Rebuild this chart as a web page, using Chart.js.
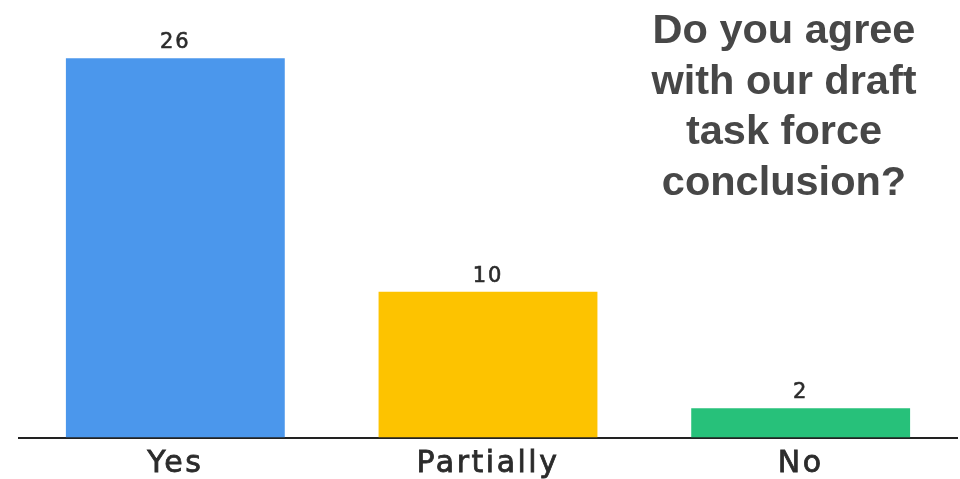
<!DOCTYPE html>
<html>
<head>
<meta charset="utf-8">
<script src="https://cdn.jsdelivr.net/npm/chart.js@4"></script>
<style>
  html, body { margin: 0; padding: 0; background: #ffffff; }
  #wrap { width: 960px; height: 479px; position: relative; }
</style>
</head>
<body>
<div id="wrap"><canvas id="chart"></canvas></div>
<script>
// Poll answers
const categories = ['Yes', 'Partially', 'No'];
const responses = [26, 10, 2];
const barColors = ['#4b97ec', '#fdc300', '#27c17a'];
const questionLines = ['Do you agree', 'with our draft', 'task force', 'conclusion?'];

// Wider tracking for the category labels, reset before the bars are drawn
const axisTracking = {
  id: 'axisTracking',
  beforeDraw(chart) { chart.ctx.letterSpacing = '2.5px'; },
  beforeDatasetsDraw(chart) { chart.ctx.letterSpacing = '0px'; }
};

// Draws the answer count above each bar
const valueLabels = {
  id: 'valueLabels',
  afterDatasetsDraw(chart) {
    const { ctx } = chart;
    const meta = chart.getDatasetMeta(0);
    const yScale = chart.scales.y;
    ctx.save();
    ctx.font = '21px "DejaVu Sans", sans-serif';
    ctx.letterSpacing = '2px';
    ctx.fillStyle = '#2b2b2b';
    ctx.strokeStyle = '#2b2b2b';
    ctx.lineWidth = 0.6;
    ctx.textAlign = 'center';
    ctx.textBaseline = 'alphabetic';
    meta.data.forEach((bar, i) => {
      const v = chart.data.datasets[0].data[i];
      const y = yScale.getPixelForValue(v) - 10;
      ctx.strokeText(String(v), bar.x, y);
      ctx.fillText(String(v), bar.x, y);
    });
    ctx.restore();
  }
};

// Question text in the upper right
const questionText = {
  id: 'questionText',
  afterDraw(chart) {
    const { ctx } = chart;
    ctx.save();
    ctx.letterSpacing = '0px';
    ctx.font = 'bold 41.5px "Liberation Sans", Arial, sans-serif';
    ctx.fillStyle = '#474747';
    ctx.textAlign = 'center';
    ctx.textBaseline = 'alphabetic';
    questionLines.forEach((line, i) => {
      ctx.fillText(line, 784, 43 + i * 50.5);
    });
    ctx.restore();
  }
};

new Chart(document.getElementById('chart'), {
  type: 'bar',
  data: {
    labels: categories,
    datasets: [{
      data: responses,
      backgroundColor: barColors,
      borderWidth: 0,
      barPercentage: 0.7,
      categoryPercentage: 1.0
    }]
  },
  options: {
    responsive: true,
    maintainAspectRatio: false,
    animation: false,
    layout: { padding: { left: 19, right: 3, top: 0, bottom: 0 } },
    plugins: {
      legend: { display: false },
      tooltip: { enabled: false },
      title: { display: false }
    },
    scales: {
      y: {
        display: false,
        min: 0,
        max: 30
      },
      x: {
        afterFit(scale) { scale.height = 41.5; },
        grid: { display: false, drawTicks: false },
        border: { display: true, color: '#222222', width: 2 },
        ticks: {
          color: '#2b2b2b',
          padding: 9,
          textStrokeColor: '#2b2b2b',
          textStrokeWidth: 0.8,
          font: { family: '"DejaVu Sans", sans-serif', size: 30 }
        }
      }
    }
  },
  plugins: [axisTracking, valueLabels, questionText]
});
</script>
</body>
</html>
